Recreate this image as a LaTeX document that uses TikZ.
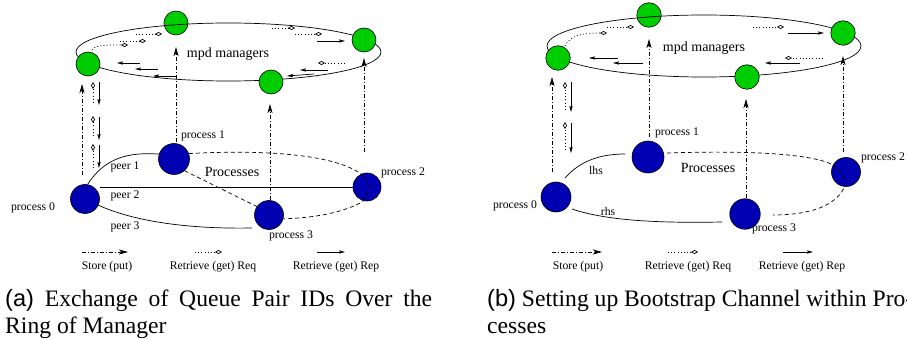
\documentclass[tikz,border=0pt]{standalone}
\usepackage{fontspec}
\setmainfont{Liberation Serif}
\newfontfamily\capsans{Liberation Sans}
\usetikzlibrary{arrows.meta}
\definecolor{mgreen}{RGB}{0,205,0}
\definecolor{mblue}{RGB}{0,0,178}
\tikzset{
  gnode/.style={circle,draw=black,fill=mgreen,minimum size=24pt,inner sep=0pt,line width=0.6pt},
  bnode/.style={circle,draw=black,fill=mblue,minimum size=30pt,inner sep=0pt,line width=0.6pt},
  lbl/.style={font=\fontsize{11.7}{14}\selectfont,inner sep=0pt},
  biglbl/.style={font=\fontsize{14}{17}\selectfont,inner sep=0pt},
  caplbl/.style={font=\fontsize{23.6}{27}\selectfont,inner sep=0pt,anchor=base west},
  ring/.style={line width=0.7pt},
  solidedge/.style={line width=0.7pt},
  dashedge/.style={line width=0.7pt,dash pattern=on 4pt off 3pt},
  store/.style={line width=0.7pt,dash pattern=on 4pt off 2pt on 1pt off 2pt,-{Stealth[length=9pt,width=5pt,inset=2.5pt]}},
  req/.style={line width=0.7pt,dash pattern=on 1pt off 2.2pt,-{Diamond[open,length=7pt,width=4pt,line width=0.7pt]}},
  rep/.style={line width=0.7pt,-{Stealth[length=6pt,width=3.2pt,inset=1pt]}},
}
\begin{document}
\begin{tikzpicture}[x=1pt,y=-1pt]
\path[use as bounding box] (0,0) rectangle (907,339);

% ================= Panel (a) =================
\node[gnode] (ga1) at (176,23) {};
\draw[ring] (228.5,52) ellipse [x radius=152.5pt, y radius=29pt];
\node[gnode] (ga2) at (88,64) {};
\node[gnode] (ga3) at (364,40) {};
\node[gnode] (ga4) at (271,82) {};
\node[biglbl] (mpda) at (228,54) {mpd managers};

% ring arrows (a)
\draw[req] (92,50) .. controls (95,45) and (105,45) .. (128,45);
\draw[req] (120,41) -- (146,41);
\draw[req] (136,34) -- (162,34);
\draw[req] (272,28) -- (295,28);
\draw[req] (295,34) -- (322,34);
\draw[rep] (317,41) -- (345,41);
\draw[req] (345,63) -- (318,63);
\draw[rep] (328,70) -- (300,70);
\draw[rep] (314,74) -- (287,76);
\draw[rep] (140,63) -- (117,63);
\draw[rep] (158,69) -- (135,69);
\draw[rep] (176,76) -- (153,76);

% processes (a)
\node[bnode,minimum size=29pt] (pa0) at (85,199) {};
\node[bnode,minimum size=31pt] (pa1) at (174,159) {};
\node[bnode,minimum size=28pt] (pa2) at (367,187) {};
\node[bnode,minimum size=29pt] (pa3) at (269,215) {};

\draw[solidedge] (pa0.80) .. controls (105,157) and (130,152) .. (pa1.162);
\draw[solidedge] (100,187) -- (pa2.west |- 0,187);
\draw[solidedge] (pa0.-25) .. controls (140,224) and (200,229) .. (252,228);
\draw[dashedge] (pa1.20) .. controls (290,148) and (345,160) .. (362,175)
   .. controls (372,184) and (369,195) .. (362,202)
   .. controls (340,214) and (310,218) .. (pa3.-15);
\draw[dashedge] (pa1.-48) -- (pa3.145);

\node[biglbl] (proca) at (232,172) {Processes};
\node[lbl] (la0) at (33,208) {process 0};
\node[lbl] (la1) at (203,136) {process 1};
\node[lbl] (la2) at (403,173) {process 2};
\node[lbl] (la3) at (291,236) {process 3};
\node[lbl] (peer1) at (125,167) {peer 1};
\node[lbl] (peer2) at (125,196) {peer 2};
\node[lbl] (peer3) at (125,227) {peer 3};

% vertical store arrows (a)
\draw[store] (82,175) -- (82,84);
\draw[store] (176,142) -- (176,47);
\draw[store] (270,200) -- (270,104);
\draw[store] (364,152) -- (364,58);
% small pairs (a)
\draw[req] (93,103) -- (93,82);
\draw[req] (93,136) -- (93,116);
\draw[req] (93,168) -- (93,144);
\draw[rep] (99,82) -- (99,105);
\draw[rep] (99,117) -- (99,140);
\draw[rep] (99,145) -- (99,168);

% legend (a)
\draw[store] (82,252) -- (128,252);
\draw[req] (195,252) -- (222,252);
\draw[rep] (317,252) -- (345,252);
\node[lbl] (sa) at (107,267) {Store (put)};
\node[lbl] (qa) at (213,267) {Retrieve (get) Req};
\node[lbl] (ra) at (336,267) {Retrieve (get) Rep};

% caption (a)
\node[caplbl] (capa1) at (5,306) {\makebox[427pt][s]{{\capsans (a)} Exchange of Queue Pair IDs Over the}};
\node[caplbl] (capa2) at (5,333) {Ring of Manager};

% ================= Panel (b) =================
\node[gnode,minimum size=24.5pt] (gb1) at (649,15) {};
\draw[ring] (704,46) ellipse [x radius=157pt, y radius=31pt];
\node[gnode,minimum size=24.5pt] (gb2) at (558,58) {};
\node[gnode,minimum size=24.5pt] (gb3) at (843,33) {};
\node[gnode,minimum size=24.5pt] (gb4) at (747,77) {};
\node[biglbl] (mpdb) at (704,48) {mpd managers};

% ring arrows (b)
\draw[req] (565,46) .. controls (570,36) and (580,33) .. (607,33);
\draw[req] (607,27) -- (634,27);
\draw[req] (753,27) -- (784,27);
\draw[rep] (788,33) -- (824,33);
\draw[req] (823,58) -- (785,58);
\draw[rep] (800,63) -- (765,63);
\draw[rep] (643,63) -- (613,63);
\draw[rep] (618,58) -- (589,58);

% processes (b)
\node[bnode,minimum size=30pt] (pb0) at (556,197) {};
\node[bnode,minimum size=32pt] (pb1) at (648,157) {};
\node[bnode,minimum size=29pt] (pb2) at (846,172) {};
\node[bnode,minimum size=30.5pt] (pb3) at (745,214) {};

\draw[solidedge] (565,178) .. controls (580,161) and (600,154) .. (625,154);
\draw[solidedge] (572,209) .. controls (610,222) and (670,223) .. (722,222);
\draw[dashedge] (667,153) .. controls (760,150) and (815,155) .. (833,165)
   .. controls (843,172) and (847,180) .. (844,188)
   .. controls (833,210) and (800,215) .. (773,215);

\node[biglbl] (procb) at (708,168) {Processes};
\node[lbl] (lb0) at (515,206) {process 0};
\node[lbl] (lb1) at (677,133) {process 1};
\node[lbl] (lb2) at (883,158) {process 2};
\node[lbl] (lb3) at (774,229) {process 3};
\node[lbl] (lhs) at (596,170) {lhs};
\node[lbl] (rhs) at (608,211) {rhs};

% vertical store arrows (b)
\draw[store] (552,172) -- (552,77);
\draw[store] (649,137) -- (649,39);
\draw[store] (746,198) -- (746,99);
\draw[store] (843,152) -- (843,56);
% small pairs (b)
\draw[req] (565,110) -- (565,82);
\draw[req] (565,150) -- (565,122);
\draw[rep] (571,82) -- (571,112);
\draw[rep] (571,123) -- (571,153);

% legend (b)
\draw[store] (552,252) -- (602,252);
\draw[req] (668,252) -- (698,252);
\draw[rep] (783,252) -- (813,252);
\node[lbl] (sb) at (578,267) {Store (put)};
\node[lbl] (qb) at (688,267) {Retrieve (get) Req};
\node[lbl] (rb) at (802,267) {Retrieve (get) Rep};

% caption (b)
\node[caplbl] (capb1) at (487,306) {{\capsans (b)} Setting up Bootstrap Channel within Pro-};
\node[caplbl] (capb2) at (487,333) {cesses};
\end{tikzpicture}
\end{document}
